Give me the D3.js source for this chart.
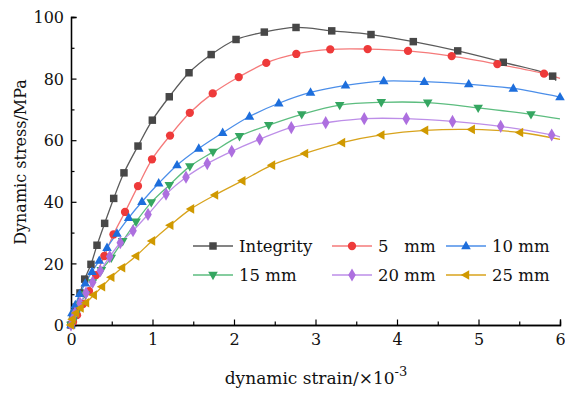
<!DOCTYPE html>
<html>
<head>
<meta charset="utf-8">
<script src="https://cdn.jsdelivr.net/npm/d3@7"></script>
<style>
  html, body { margin: 0; padding: 0; background: #fff; }
  svg { display: block; }
  text { font-family: "DejaVu Serif", "Liberation Serif", serif; fill: #111; }
</style>
</head>
<body>
<svg id="chart" width="565" height="394"></svg>
<script>
// Dynamic stress–strain curves for intact and pre-cracked specimens
const seriesNames = ["Integrity", "5\u00a0\u00a0\u00a0mm", "10 mm", "15 mm", "20 mm", "25 mm"];

// strain (×10^-3) at each marker
const strainIntegrity = [0, 0.025, 0.06, 0.11, 0.168, 0.245, 0.319, 0.413, 0.524, 0.65, 0.822, 0.998, 1.206, 1.448, 1.72, 2.025, 2.372, 2.761, 3.199, 3.681, 4.2, 4.745, 5.304, 5.91];
const stressIntegrity = [0, 2.3, 5.8, 10.4, 14.9, 19.7, 25.9, 33.0, 41.1, 49.4, 58.1, 66.5, 74.1, 81.9, 87.8, 92.7, 95.1, 96.6, 95.5, 94.3, 92.0, 89.0, 85.3, 80.8];

const strain5 = [0, 0.025, 0.074, 0.147, 0.221, 0.307, 0.409, 0.521, 0.663, 0.822, 0.994, 1.215, 1.458, 1.739, 2.058, 2.396, 2.764, 3.181, 3.64, 4.135, 4.671, 5.231, 5.804];
const stress5 = [0, 1.0, 3.2, 6.8, 11.0, 16.2, 22.4, 29.4, 36.7, 45.1, 53.8, 61.5, 68.9, 75.2, 80.5, 85.1, 88.0, 89.5, 89.6, 89.0, 87.3, 84.7, 81.6];

const strain10 = [0, 0.012, 0.053, 0.107, 0.175, 0.258, 0.347, 0.442, 0.564, 0.708, 0.871, 1.076, 1.301, 1.568, 1.861, 2.19, 2.55, 2.939, 3.368, 3.837, 4.335, 4.88, 5.427, 6.0];
const stress10 = [0, 3.9, 6.5, 10.1, 13.5, 17.3, 20.9, 25.1, 29.7, 34.8, 40.0, 46.0, 51.9, 57.3, 62.4, 67.7, 72.0, 75.5, 77.8, 79.2, 79.0, 78.2, 76.8, 74.0];

const strain15 = [0, 0.025, 0.061, 0.11, 0.178, 0.264, 0.372, 0.494, 0.634, 0.798, 0.985, 1.206, 1.458, 1.742, 2.067, 2.426, 2.831, 3.297, 3.807, 4.377, 4.996, 5.644];
const stress15 = [0, 1.3, 3.6, 6.5, 9.9, 13.8, 17.8, 21.8, 27.2, 33.5, 39.8, 45.4, 51.5, 56.2, 61.3, 64.9, 68.4, 71.4, 72.3, 72.2, 70.5, 68.4];

const strain20 = [0, 0.012, 0.049, 0.11, 0.184, 0.266, 0.36, 0.475, 0.605, 0.761, 0.945, 1.166, 1.411, 1.672, 1.972, 2.315, 2.703, 3.125, 3.598, 4.114, 4.681, 5.272, 5.898];
const stress20 = [0, 1.6, 3.9, 7.1, 10.4, 13.9, 17.6, 22.2, 26.7, 30.6, 35.9, 42.5, 48.0, 52.4, 56.4, 60.3, 64.1, 65.7, 67.0, 67.0, 66.1, 64.5, 61.7];

const strain25 = [0, 0.018, 0.061, 0.117, 0.184, 0.279, 0.38, 0.494, 0.626, 0.798, 0.994, 1.218, 1.472, 1.767, 2.102, 2.466, 2.871, 3.325, 3.807, 4.344, 4.917, 5.509];
const stress25 = [0, 1.9, 3.9, 5.5, 7.2, 9.7, 12.4, 15.5, 18.6, 22.4, 27.3, 32.4, 37.7, 42.2, 46.8, 51.9, 55.7, 59.2, 61.7, 63.2, 63.5, 62.5];

// last recorded point of each curve (line continues past the final marker)
const endStrain = [5.95, 6.0, 6.0, 6.0, 6.0, 6.0];
const endStress = [79.3, 80.1, 74.0, 66.9, 61.1, 60.3];

const xTicks = [0, 1, 2, 3, 4, 5, 6];
const yTicks = [0, 20, 40, 60, 80, 100];

const strains = [strainIntegrity, strain5, strain10, strain15, strain20, strain25];
const stresses = [stressIntegrity, stress5, stress10, stress15, stress20, stress25];

const lineColors = ["#5b5b5b", "#f57a7a", "#4b8ee9", "#5cbd7f", "#bd8ee8", "#d8a31c"];
const markColors = ["#474747", "#ee3a3a", "#1d6edc", "#35a661", "#ad6fdf", "#d09900"];
const symbols = [d3.symbolSquare, d3.symbolCircle, "up", "down", d3.symbolDiamond, "left"];

const svg = d3.select("#chart");
const x = d3.scaleLinear().domain([0, 6]).range([71, 560]);
const y = d3.scaleLinear().domain([0, 100]).range([325, 17]);

function markerPath(kind) {
  if (kind === "up") return "M0,-5.2L4.8,3.2L-4.8,3.2Z";
  if (kind === "down") return "M0,5.2L4.8,-3.2L-4.8,-3.2Z";
  if (kind === "left") return "M-5.2,0L3.2,-4.8L3.2,4.8Z";
  if (kind === d3.symbolSquare) return d3.symbol(kind, 56)();
  if (kind === d3.symbolCircle) return d3.symbol(kind, 54)();
  return d3.symbol(kind, 50)();
}

// axes with inward ticks
const xAxis = d3.axisBottom(x).tickValues(xTicks).tickSize(-5.5).tickPadding(8).tickFormat(d3.format("d"));
const xMinor = d3.axisBottom(x).tickValues(d3.range(0.5, 6, 1)).tickSize(-3.5).tickFormat("");
const yAxis = d3.axisLeft(y).tickValues(yTicks).tickSize(-5.5).tickPadding(7).tickFormat(d3.format("d"));
const yMinor = d3.axisLeft(y).tickValues(d3.range(10, 100, 20)).tickSize(-3.5).tickFormat("");

function styleAxis(g) {
  g.selectAll("path.domain").attr("stroke", "#000").attr("stroke-width", 1.3);
  g.selectAll(".tick line").attr("stroke", "#000").attr("stroke-width", 1.2);
  g.selectAll(".tick text").style("font-family", '"DejaVu Serif", serif').style("font-size", "16px").attr("fill", "#111");
}

const gx = svg.append("g").attr("transform", "translate(0,325)").call(xAxis).call(styleAxis);
svg.append("g").attr("transform", "translate(0,325)").call(xMinor).call(styleAxis);
const gy = svg.append("g").attr("transform", "translate(71,0)").call(yAxis).call(styleAxis);
svg.append("g").attr("transform", "translate(71,0)").call(yMinor).call(styleAxis);
gx.selectAll(".tick text").attr("dy", null).attr("y", 20);
gy.selectAll(".tick text").attr("dy", "0.36em");

// curves
const line = d3.line().x(d => x(d[0])).y(d => y(d[1])).curve(d3.curveCatmullRom.alpha(0.5));
const plot = svg.append("g");
strains.forEach((sx, i) => {
  const pts = sx.map((v, j) => [v, stresses[i][j]]);
  const linePts = pts.concat(endStrain[i] > sx[sx.length - 1] ? [[endStrain[i], endStress[i]]] : []);
  plot.append("path")
    .attr("d", line(linePts))
    .attr("fill", "none")
    .attr("stroke", lineColors[i])
    .attr("stroke-width", 1.3);
});
strains.forEach((sx, i) => {
  const pts = sx.map((v, j) => [v, stresses[i][j]]);
  plot.append("g").selectAll("path")
    .data(pts)
    .join("path")
    .attr("transform", d => `translate(${x(d[0])},${y(d[1])})`)
    .attr("d", markerPath(symbols[i]))
    .attr("fill", markColors[i]);
});

// legend, two rows of three
const legX = [193, 332, 446];
const legY = [246, 275];
const leg = svg.append("g");
seriesNames.forEach((name, i) => {
  const cx = legX[i % 3], cy = legY[Math.floor(i / 3)];
  const g = leg.append("g").attr("transform", `translate(${cx},${cy})`);
  g.append("line").attr("x1", 0).attr("x2", 40).attr("y1", 0).attr("y2", 0)
    .attr("stroke", lineColors[i]).attr("stroke-width", 1.5);
  g.append("path").attr("transform", "translate(20,0)").attr("d", markerPath(symbols[i])).attr("fill", markColors[i]);
  g.append("text").attr("x", 46).attr("y", 0).attr("dy", "0.36em")
    .style("font-size", "16.5px").text(name);
});

// axis titles
svg.append("text")
  .attr("transform", "translate(26,162) rotate(-90)")
  .attr("text-anchor", "middle")
  .style("font-size", "16px")
  .text("Dynamic stress/MPa");

const xt = svg.append("text")
  .attr("x", 316).attr("y", 384)
  .attr("text-anchor", "middle")
  .style("font-size", "17px");
xt.append("tspan").text("dynamic strain/×10");
xt.append("tspan").attr("dy", -8).style("font-size", "13px").text("-3");
</script>
</body>
</html>
